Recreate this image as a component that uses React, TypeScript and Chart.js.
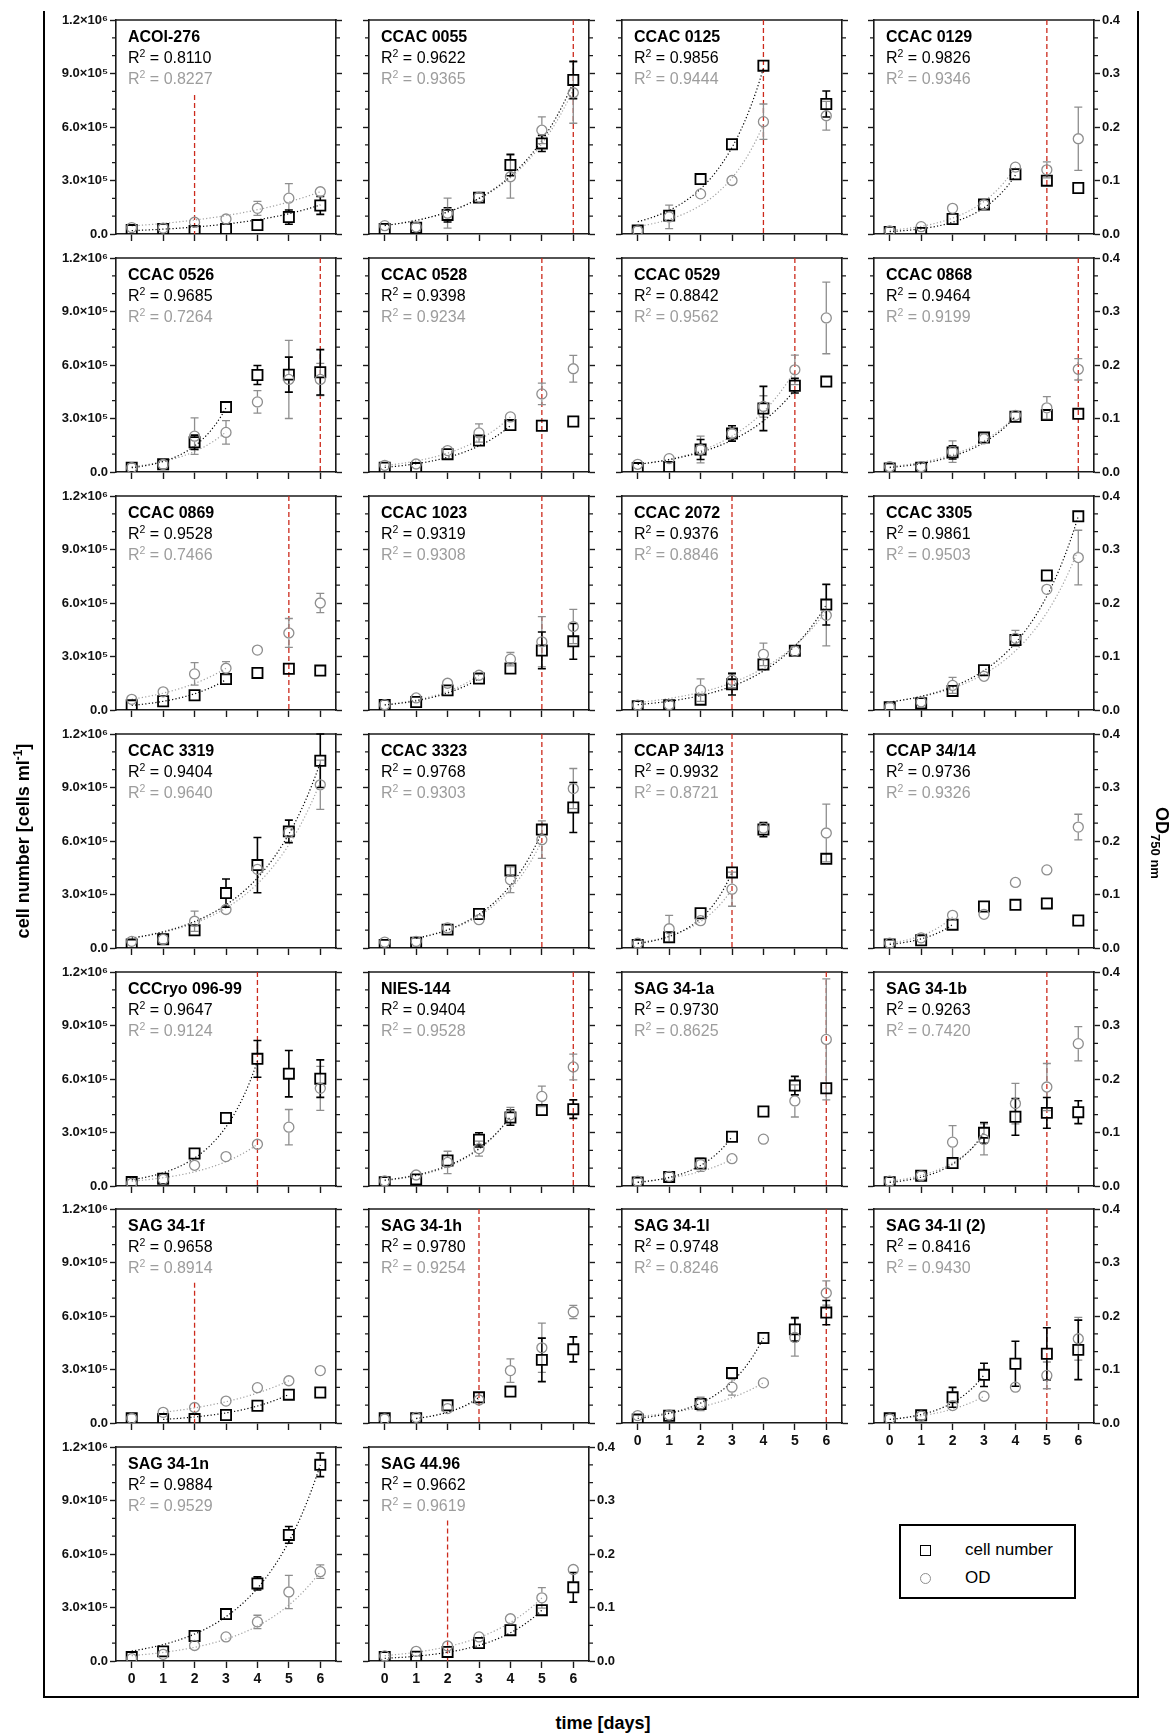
import React, { useEffect, useRef } from 'react';
import { Chart, registerables } from 'chart.js';

Chart.register(...registerables);

// ---------------- data ----------------
const DAYS = [0, 1, 2, 3, 4, 5, 6];

const STRAINS = [
  'ACOI-276', 'CCAC 0055', 'CCAC 0125', 'CCAC 0129',
  'CCAC 0526', 'CCAC 0528', 'CCAC 0529', 'CCAC 0868',
  'CCAC 0869', 'CCAC 1023', 'CCAC 2072', 'CCAC 3305',
  'CCAC 3319', 'CCAC 3323', 'CCAP 34/13', 'CCAP 34/14',
  'CCCryo 096-99', 'NIES-144', 'SAG 34-1a', 'SAG 34-1b',
  'SAG 34-1f', 'SAG 34-1h', 'SAG 34-1l', 'SAG 34-1l (2)',
  'SAG 34-1n', 'SAG 44.96',
];

const R2_CELLS = [
  '0.8110', '0.9622', '0.9856', '0.9826', '0.9685', '0.9398', '0.8842', '0.9464',
  '0.9528', '0.9319', '0.9376', '0.9861', '0.9404', '0.9768', '0.9932', '0.9736',
  '0.9647', '0.9404', '0.9730', '0.9263', '0.9658', '0.9780', '0.9748', '0.8416',
  '0.9884', '0.9662',
];

const R2_OD = [
  '0.8227', '0.9365', '0.9444', '0.9346', '0.7264', '0.9234', '0.9562', '0.9199',
  '0.7466', '0.9308', '0.8846', '0.9503', '0.9640', '0.9303', '0.8721', '0.9326',
  '0.9124', '0.9528', '0.8625', '0.7420', '0.8914', '0.9254', '0.8246', '0.9430',
  '0.9529', '0.9619',
];

// cell number, in thousands of cells per ml (day 0..6)
const CELLS: (number | null)[][] = [
  [22, 28, 17, 28, 50, 95, 160],
  [28, 35, 107, 204, 387, 508, 864],
  [19, 103, 308, 503, 944, null, 729],
  [11, 6, 84, 166, 335, 299, 258],
  [24, 43, 167, 364, 544, 546, 559],
  [24, 22, 100, 176, 263, 259, 283],
  [22, 28, 126, 216, 356, 484, 507],
  [19, 24, 110, 193, 310, 319, 326],
  [26, 49, 83, 174, 208, 231, 221],
  [28, 45, 110, 176, 233, 334, 385],
  [21, 26, 58, 144, 255, 332, 591],
  [15, 38, 107, 223, 392, 754, 1086],
  [19, 49, 99, 308, 465, 654, 1050],
  [17, 30, 103, 191, 435, 664, 788],
  [17, 60, 195, 424, 664, null, 500],
  [19, 43, 131, 233, 242, 250, 154],
  [22, 41, 182, 381, 713, 630, 602],
  [21, 37, 143, 259, 384, 426, 431],
  [19, 51, 126, 276, 418, 563, 548],
  [21, 58, 129, 298, 388, 410, 414],
  [26, 22, 22, 45, 97, 159, 171],
  [26, 26, 99, 144, 176, 354, 413],
  [19, 41, 107, 280, 477, 525, 619],
  [26, 43, 144, 270, 332, 388, 410],
  [22, 54, 140, 263, 435, 707, 1100],
  [22, 24, 51, 101, 173, 285, 413],
];

const CELLS_SD: number[][] = [
  [10, 5, 5, 5, 8, 40, 50],
  [8, 10, 40, 12, 60, 45, 105],
  [5, 20, 5, 10, 35, 0, 73],
  [5, 5, 8, 8, 10, 8, 5],
  [5, 5, 40, 10, 53, 98, 127],
  [5, 5, 10, 33, 10, 10, 8],
  [5, 5, 56, 43, 124, 41, 28],
  [5, 5, 37, 10, 10, 10, 5],
  [5, 5, 26, 8, 5, 8, 5],
  [5, 5, 10, 10, 10, 103, 100],
  [5, 5, 8, 60, 15, 8, 114],
  [5, 5, 10, 10, 15, 20, 15],
  [5, 5, 10, 79, 155, 63, 150],
  [5, 5, 10, 10, 25, 34, 140],
  [5, 25, 10, 10, 40, 0, 30],
  [5, 5, 10, 20, 15, 15, 10],
  [5, 5, 10, 15, 103, 130, 105],
  [5, 5, 10, 40, 43, 10, 52],
  [5, 5, 10, 10, 10, 52, 10],
  [5, 5, 10, 58, 103, 86, 64],
  [5, 5, 5, 8, 10, 10, 10],
  [5, 5, 10, 10, 10, 122, 70],
  [5, 5, 10, 33, 10, 66, 68],
  [5, 5, 56, 65, 126, 146, 167],
  [5, 5, 10, 10, 37, 47, 66],
  [5, 5, 5, 30, 15, 10, 83],
];

// optical density at 750 nm (day 0..6)
const OD: (number | null)[][] = [
  [0.012, 0.011, 0.022, 0.028, 0.048, 0.067, 0.079],
  [0.0156, 0.013, 0.039, 0.069, 0.107, 0.194, 0.264],
  [0.006, 0.032, 0.075, 0.1, 0.21, null, 0.221],
  [0.0056, 0.0137, 0.048, 0.055, 0.125, 0.12, 0.178],
  [0.008, 0.014, 0.067, 0.074, 0.131, 0.173, 0.173],
  [0.0125, 0.015, 0.04, 0.073, 0.103, 0.146, 0.193],
  [0.0144, 0.025, 0.042, 0.072, 0.1225, 0.191, 0.288],
  [0.01, 0.01, 0.038, 0.062, 0.106, 0.12, 0.192],
  [0.02, 0.034, 0.0675, 0.078, 0.112, 0.144, 0.2],
  [0.01, 0.0225, 0.05, 0.065, 0.095, 0.1275, 0.156],
  [0.009, 0.01, 0.037, 0.0556, 0.104, 0.11, 0.177],
  [0.0056, 0.015, 0.046, 0.063, 0.134, 0.2256, 0.285],
  [0.0125, 0.016, 0.05, 0.072, 0.147, 0.216, 0.305],
  [0.011, 0.0125, 0.0375, 0.053, 0.1275, 0.2025, 0.298],
  [0.009, 0.036, 0.051, 0.11, 0.224, null, 0.215],
  [0.009, 0.019, 0.061, 0.063, 0.1225, 0.146, 0.226],
  [0.005, 0.0125, 0.0387, 0.055, 0.078, 0.11, 0.1825],
  [0.0094, 0.0206, 0.044, 0.07, 0.133, 0.1675, 0.2225],
  [0.009, 0.018, 0.04, 0.051, 0.0875, 0.159, 0.274],
  [0.009, 0.019, 0.082, 0.087, 0.154, 0.185, 0.266],
  [0.0088, 0.02, 0.029, 0.041, 0.066, 0.079, 0.098],
  [0.0075, 0.0106, 0.027, 0.043, 0.098, 0.1406, 0.2075],
  [0.0138, 0.015, 0.0356, 0.067, 0.075, 0.16, 0.243],
  [0.0075, 0.013, 0.0325, 0.05, 0.067, 0.089, 0.1575],
  [0.0044, 0.0125, 0.029, 0.045, 0.073, 0.129, 0.167],
  [0.0094, 0.018, 0.028, 0.045, 0.079, 0.118, 0.171],
];

const OD_SD: number[][] = [
  [0.005, 0.003, 0.005, 0.004, 0.013, 0.027, 0.004],
  [0.004, 0.004, 0.028, 0.004, 0.04, 0.025, 0.057],
  [0.003, 0.022, 0.004, 0.011, 0.033, 0, 0.027],
  [0.003, 0.003, 0.01, 0.004, 0.011, 0.015, 0.059],
  [0.003, 0.003, 0.034, 0.022, 0.021, 0.073, 0.03],
  [0.003, 0.003, 0.006, 0.017, 0.004, 0.02, 0.025],
  [0.003, 0.0075, 0.025, 0.005, 0.02, 0.0275, 0.067],
  [0.009, 0.003, 0.02, 0.004, 0.004, 0.021, 0.02],
  [0.01, 0.009, 0.021, 0.0125, 0.009, 0.027, 0.018],
  [0.003, 0.004, 0.004, 0.006, 0.0125, 0.047, 0.032],
  [0.003, 0.004, 0.021, 0.014, 0.021, 0.004, 0.057],
  [0.003, 0.003, 0.015, 0.004, 0.015, 0.005, 0.051],
  [0.003, 0.003, 0.019, 0.004, 0.01, 0.01, 0.046],
  [0.003, 0.003, 0.005, 0.004, 0.024, 0.035, 0.0375],
  [0.003, 0.025, 0.004, 0.032, 0.005, 0, 0.054],
  [0.003, 0.004, 0.012, 0.004, 0.012, 0.011, 0.024],
  [0.003, 0.003, 0.009, 0.004, 0.011, 0.033, 0.041],
  [0.003, 0.004, 0.021, 0.014, 0.014, 0.019, 0.024],
  [0.003, 0.003, 0.0125, 0.004, 0.004, 0.03, 0.113],
  [0.003, 0.003, 0.031, 0.029, 0.038, 0.044, 0.032],
  [0.003, 0.003, 0.009, 0.004, 0.012, 0.008, 0.004],
  [0.003, 0.003, 0.004, 0.004, 0.022, 0.046, 0.0125],
  [0.003, 0.003, 0.0125, 0.015, 0.004, 0.035, 0.0225],
  [0.003, 0.003, 0.006, 0.004, 0.004, 0.025, 0.04],
  [0.003, 0.003, 0.004, 0.004, 0.0125, 0.031, 0.0125],
  [0.003, 0.003, 0.012, 0.006, 0.004, 0.019, 0.011],
];

// exponential fit: day range and fitted values at its two ends
const FIT_FROM = [0, 0, 0, 0, 0, 0, 0, 0, 0, 0, 0, 0, 0, 1, 0, 0, 0, 0, 0, 0, 1, 1, 0, 0, 0, 0];
const FIT_TO = [6, 6, 4, 4, 3, 4, 5, 4, 3, 3, 6, 6, 6, 5, 3, 2, 4, 4, 3, 3, 5, 3, 4, 3, 6, 5];
const FIT_CELLS_START = [19, 47, 69, 13, 24, 26, 43, 25, 26, 28, 30, 45, 56, 55, 25, 20, 35, 33, 20, 20, 20, 25, 26, 20, 56, 15];
const FIT_CELLS_END = [163, 850, 930, 330, 360, 260, 460, 310, 170, 176, 590, 1086, 1040, 650, 424, 131, 700, 390, 276, 300, 160, 144, 477, 270, 1100, 285];
const FIT_OD_START = [0.015, 0.016, 0.014, 0.007, 0.01, 0.012, 0.014, 0.01, 0.02, 0.01, 0.014, 0.015, 0.018, 0.018, 0.01, 0.009, 0.009, 0.01, 0.008, 0.009, 0.02, 0.009, 0.012, 0.007, 0.01, 0.01];
const FIT_OD_END = [0.079, 0.27, 0.205, 0.125, 0.075, 0.103, 0.19, 0.105, 0.078, 0.065, 0.185, 0.3, 0.31, 0.2, 0.11, 0.058, 0.078, 0.13, 0.05, 0.095, 0.079, 0.045, 0.075, 0.05, 0.167, 0.118];

// red cut-off line: day, and top of the line (thousands of cells)
const CUTOFF_DAY: (number | null)[] = [2, 6, 4, 5, 6, 5, 5, 6, 5, 5, 3, null, null, 5, 3, null, 4, 6, 6, 5, 2, 3, 6, 5, null, 2];
const CUTOFF_TOP = [780, 1200, 1200, 1200, 1200, 1200, 1200, 1200, 1200, 1200, 1200, 1200, 1200, 1200, 1200, 1200, 1200, 1200, 1200, 1200, 786, 1200, 1200, 1200, 1200, 788];

const CELL_TICKS = [0, 300, 600, 900, 1200];
const OD_TICKS = [0, 0.1, 0.2, 0.3, 0.4];

// ---------------- styling / layout ----------------
const FONT = '"Liberation Sans", Arial, Helvetica, sans-serif';
const AXIS = '#1a1a1a';
const GREY = '#8e8e8e';
const GREY_TEXT = '#9d9d9d';
const RED = '#cc2a1c';

const COL_LEFT = [116, 369, 622, 874];
const ROW_TOP = [20, 258, 496, 734, 972, 1209, 1447];
const PW = 220;
const PH = 214;
const PAD_L = 74;
const PAD_R = 50;
const PAD_T = 14;
const PAD_B = 36;
const CW = PW + PAD_L + PAD_R;
const CH = PH + PAD_T + PAD_B;

function fmtCells(v: number) {
  if (v === 0) return '0.0';
  if (v >= 1000) return (v / 1000).toFixed(1) + '×10⁶';
  return (v / 100).toFixed(1) + '×10⁵';
}

function drawFit(ctx: any, x: any, y: any, d0: number, d1: number, v0: number, v1: number, color: string) {
  ctx.strokeStyle = color;
  ctx.lineWidth = 1.2;
  ctx.setLineDash([1.2, 2.2]);
  ctx.beginPath();
  const n = 60;
  for (let k = 0; k <= n; k++) {
    const t = d0 + ((d1 - d0) * k) / n;
    const v = v0 * Math.pow(v1 / v0, (t - d0) / (d1 - d0));
    const px = x.getPixelForValue(t);
    const py = y.getPixelForValue(v);
    if (k === 0) ctx.moveTo(px, py);
    else ctx.lineTo(px, py);
  }
  ctx.stroke();
  ctx.setLineDash([]);
}

function drawErr(ctx: any, x: any, y: any, vals: (number | null)[], errs: number[], half: number, color: string, lw: number) {
  ctx.strokeStyle = color;
  ctx.lineWidth = lw;
  ctx.setLineDash([]);
  vals.forEach((v, d) => {
    if (v === null) return;
    const e = errs[d];
    if (!e) return;
    const px = x.getPixelForValue(DAYS[d]);
    const yc = y.getPixelForValue(v);
    const yt = y.getPixelForValue(v + e);
    const yb = y.getPixelForValue(Math.max(v - e, 0));
    ctx.beginPath();
    if (yc - yt > half + 1) {
      ctx.moveTo(px, yc - half);
      ctx.lineTo(px, yt);
      ctx.moveTo(px - 4, yt);
      ctx.lineTo(px + 4, yt);
    }
    if (yb - yc > half + 1) {
      ctx.moveTo(px, yc + half);
      ctx.lineTo(px, yb);
      ctx.moveTo(px - 4, yb);
      ctx.lineTo(px + 4, yb);
    }
    ctx.stroke();
  });
}

function drawR2(ctx: any, x: number, y: number, val: string, color: string) {
  ctx.fillStyle = color;
  ctx.font = `16px ${FONT}`;
  ctx.fillText('R', x, y);
  let w = ctx.measureText('R').width;
  ctx.font = `10.5px ${FONT}`;
  ctx.fillText('2', x + w, y - 6.5);
  w += ctx.measureText('2').width;
  ctx.font = `16px ${FONT}`;
  ctx.fillText(' = ' + val, x + w, y);
}

function makePlugin(i: number) {
  return {
    id: 'panelDecor',
    beforeDatasetsDraw(chart: any) {
      const { ctx, chartArea: a, scales } = chart;
      const x = scales.x;
      const yL = scales.yL;
      const yR = scales.yR;
      ctx.save();
      // top frame line
      ctx.strokeStyle = AXIS;
      ctx.lineWidth = 1.6;
      ctx.beginPath();
      ctx.moveTo(a.left - 0.8, a.top);
      ctx.lineTo(a.right + 0.8, a.top);
      ctx.stroke();
      // minor ticks on both y axes
      ctx.lineWidth = 1.2;
      ctx.beginPath();
      for (let k = 1; k < 12; k++) {
        if (k % 3 === 0) continue;
        const yy = yL.getPixelForValue(k * 100);
        ctx.moveTo(a.left, yy);
        ctx.lineTo(a.left - 4, yy);
        ctx.moveTo(a.right, yy);
        ctx.lineTo(a.right + 4, yy);
      }
      ctx.stroke();
      // cut-off line
      const cd = CUTOFF_DAY[i];
      if (cd !== null) {
        const px = x.getPixelForValue(cd);
        ctx.strokeStyle = RED;
        ctx.lineWidth = 1.3;
        ctx.setLineDash([5, 3]);
        ctx.beginPath();
        ctx.moveTo(px, yL.getPixelForValue(CUTOFF_TOP[i]));
        ctx.lineTo(px, a.bottom);
        ctx.stroke();
        ctx.setLineDash([]);
      }
      // fitted curves
      drawFit(ctx, x, yR, FIT_FROM[i], FIT_TO[i], FIT_OD_START[i], FIT_OD_END[i], '#a0a0a0');
      drawFit(ctx, x, yL, FIT_FROM[i], FIT_TO[i], FIT_CELLS_START[i], FIT_CELLS_END[i], '#000');
      // error bars
      drawErr(ctx, x, yR, OD[i], OD_SD[i], 5.5, GREY, 1.3);
      drawErr(ctx, x, yL, CELLS[i], CELLS_SD[i], 5.5, '#000', 1.6);
      ctx.restore();
    },
    afterDraw(chart: any) {
      const { ctx, chartArea: a } = chart;
      ctx.save();
      ctx.textAlign = 'left';
      ctx.textBaseline = 'alphabetic';
      const x0 = a.left + 12;
      ctx.fillStyle = '#000';
      ctx.font = `bold 16px ${FONT}`;
      ctx.fillText(STRAINS[i], x0, a.top + 22);
      drawR2(ctx, x0, a.top + 43, R2_CELLS[i], '#000');
      drawR2(ctx, x0, a.top + 64, R2_OD[i], GREY_TEXT);
      ctx.restore();
    },
  };
}

function Panel({ idx }: { idx: number }) {
  const ref = useRef<HTMLCanvasElement>(null);
  const row = Math.floor(idx / 4);
  const col = idx % 4;
  useEffect(() => {
    const showX = idx >= 22;
    const showL = col === 0;
    const showR = col === 3 || idx === 25;
    const chart = new Chart(ref.current as HTMLCanvasElement, {
      type: 'scatter',
      data: {
        datasets: [
          {
            label: 'OD',
            data: DAYS.map((d, k) => ({ x: d, y: OD[idx][k] })).filter((p) => p.y !== null) as any,
            yAxisID: 'yR',
            pointStyle: 'circle',
            pointRadius: 5,
            borderColor: GREY,
            borderWidth: 1.3,
            backgroundColor: 'rgba(0,0,0,0)',
            showLine: false,
          },
          {
            label: 'cell number',
            data: DAYS.map((d, k) => ({ x: d, y: CELLS[idx][k] })).filter((p) => p.y !== null) as any,
            yAxisID: 'yL',
            pointStyle: 'rect',
            pointRadius: 7.2,
            borderColor: '#000',
            borderWidth: 1.8,
            backgroundColor: 'rgba(0,0,0,0)',
            showLine: false,
          },
        ],
      },
      options: {
        responsive: false,
        animation: false,
        devicePixelRatio: 1,
        events: [],
        layout: { padding: { top: PAD_T, left: 0, right: 0, bottom: 0 } },
        plugins: { legend: { display: false }, tooltip: { enabled: false } },
        scales: {
          x: {
            type: 'linear',
            position: 'bottom',
            min: -0.5,
            max: 6.5,
            afterBuildTicks: (s: any) => {
              s.ticks = DAYS.map((v) => ({ value: v }));
            },
            afterFit: (s: any) => {
              s.height = PAD_B;
            },
            grid: { display: true, drawOnChartArea: false, drawTicks: true, tickLength: 7, tickWidth: 1.4, tickColor: AXIS, color: AXIS },
            border: { display: true, color: AXIS, width: 1.6 },
            ticks: {
              display: showX,
              autoSkip: false,
              maxRotation: 0,
              padding: 3,
              color: '#111',
              font: { family: FONT, size: 14, weight: 'bold' },
              callback: (v: any) => String(v),
            },
          },
          yL: {
            type: 'linear',
            position: 'left',
            min: 0,
            max: 1200,
            afterBuildTicks: (s: any) => {
              s.ticks = CELL_TICKS.map((v) => ({ value: v }));
            },
            afterFit: (s: any) => {
              s.width = PAD_L;
            },
            grid: { display: true, drawOnChartArea: false, drawTicks: true, tickLength: 6, tickWidth: 1.4, tickColor: AXIS, color: AXIS },
            border: { display: true, color: AXIS, width: 1.6 },
            ticks: {
              display: showL,
              padding: 2,
              color: '#111',
              font: { family: FONT, size: 13, weight: 'bold' },
              callback: (v: any) => fmtCells(Number(v)),
            },
          },
          yR: {
            type: 'linear',
            position: 'right',
            min: 0,
            max: 0.4,
            afterBuildTicks: (s: any) => {
              s.ticks = OD_TICKS.map((v) => ({ value: v }));
            },
            afterFit: (s: any) => {
              s.width = PAD_R;
            },
            grid: { display: true, drawOnChartArea: false, drawTicks: true, tickLength: 6, tickWidth: 1.4, tickColor: AXIS, color: AXIS },
            border: { display: true, color: AXIS, width: 1.6 },
            ticks: {
              display: showR,
              padding: 2,
              color: '#111',
              font: { family: FONT, size: 13, weight: 'bold' },
              callback: (v: any) => Number(v).toFixed(1),
            },
          },
        },
      } as any,
      plugins: [makePlugin(idx)],
    });
    return () => chart.destroy();
  }, [idx]);
  return (
    <canvas
      ref={ref}
      width={CW}
      height={CH}
      style={{ position: 'absolute', left: COL_LEFT[col] - PAD_L, top: ROW_TOP[row] - PAD_T, width: CW, height: CH }}
    />
  );
}

export default function App() {
  return (
    <div style={{ position: 'absolute', left: 0, top: 0, width: 1171, height: 1735, background: '#fff', fontFamily: FONT, overflow: 'hidden' }}>
      <div
        style={{
          position: 'absolute', left: 43, top: 11, width: 1096, height: 1687,
          borderLeft: '2px solid #000', borderRight: '2px solid #000', borderBottom: '2px solid #000', boxSizing: 'border-box',
        }}
      />
      {STRAINS.map((_, i) => (
        <Panel key={i} idx={i} />
      ))}
      <div
        style={{
          position: 'absolute', left: 22, top: 841, transform: 'translate(-50%, -50%) rotate(-90deg)',
          whiteSpace: 'nowrap', fontWeight: 'bold', fontSize: 18, color: '#000',
        }}
      >
        cell number [cells ml<sup style={{ fontSize: 12 }}>-1</sup>]
      </div>
      <div
        style={{
          position: 'absolute', left: 1160, top: 843, transform: 'translate(-50%, -50%) rotate(90deg)',
          whiteSpace: 'nowrap', fontWeight: 'bold', fontSize: 18, color: '#000',
        }}
      >
        OD<sub style={{ fontSize: 13 }}>750 nm</sub>
      </div>
      <div
        style={{
          position: 'absolute', left: 603, top: 1723, transform: 'translate(-50%, -50%)',
          whiteSpace: 'nowrap', fontWeight: 'bold', fontSize: 18, color: '#000',
        }}
      >
        time [days]
      </div>
      <div style={{ position: 'absolute', left: 899, top: 1524, width: 177, height: 75, border: '2px solid #000', boxSizing: 'border-box' }} />
      <div style={{ position: 'absolute', left: 920, top: 1545, width: 11, height: 11, border: '1.8px solid #000', boxSizing: 'border-box' }} />
      <div style={{ position: 'absolute', left: 920, top: 1573, width: 11, height: 11, border: '1.3px solid ' + GREY, borderRadius: '50%', boxSizing: 'border-box' }} />
      <div style={{ position: 'absolute', left: 965, top: 1540, fontSize: 17, lineHeight: '20px', color: '#000', whiteSpace: 'nowrap' }}>cell number</div>
      <div style={{ position: 'absolute', left: 965, top: 1568, fontSize: 17, lineHeight: '20px', color: '#000', whiteSpace: 'nowrap' }}>OD</div>
    </div>
  );
}
